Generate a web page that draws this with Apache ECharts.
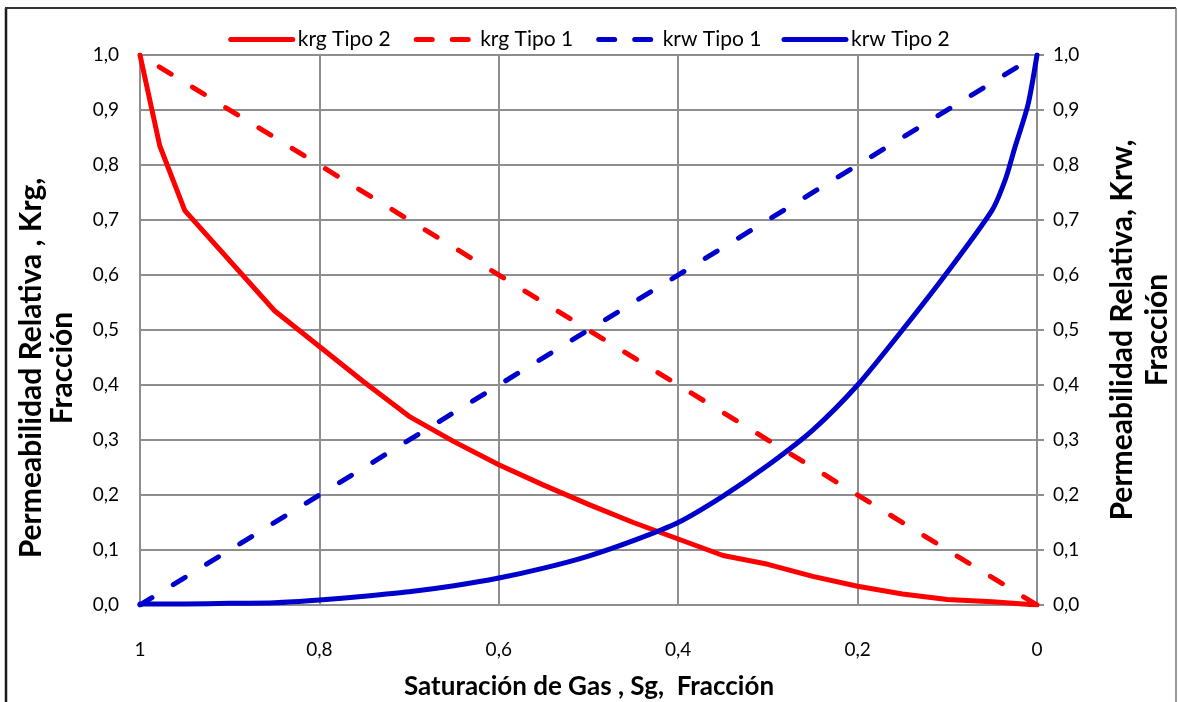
<!DOCTYPE html>
<html>
<head>
<meta charset="utf-8">
<title>Permeabilidad relativa</title>
<script src="https://cdn.jsdelivr.net/npm/echarts@6/dist/echarts.min.js"></script>
<style>
  html, body { margin: 0; padding: 0; background: #fff; }
  #chart { width: 1178px; height: 702px; }
</style>
</head>
<body>
<div id="chart"></div>
<script>
// Saturación de gas (Sg) y permeabilidades relativas
const krgTipo2Sg = [1, 0.978, 0.95, 0.85, 0.80, 0.75, 0.70, 0.65, 0.60, 0.55, 0.50, 0.45, 0.40, 0.35, 0.30, 0.25, 0.20, 0.15, 0.10, 0.05, 0];
const krgTipo2   = [1, 0.835, 0.717, 0.535, 0.47, 0.405, 0.343, 0.297, 0.255, 0.218, 0.183, 0.150, 0.120, 0.090, 0.074, 0.052, 0.034, 0.020, 0.010, 0.006, 0];

const tipo1Sg  = [1, 0];
const krgTipo1 = [1, 0];
const krwTipo1 = [0, 1];

const krwTipo2Sg = [1, 0.95, 0.90, 0.85, 0.80, 0.75, 0.70, 0.65, 0.60, 0.55, 0.50, 0.45, 0.40, 0.35, 0.30, 0.25, 0.20, 0.15, 0.10, 0.05, 0.035, 0.025, 0.01, 0];
const krwTipo2   = [0.002, 0.002, 0.003, 0.004, 0.009, 0.016, 0.024, 0.035, 0.049, 0.067, 0.089, 0.117, 0.150, 0.198, 0.254, 0.318, 0.400, 0.500, 0.605, 0.718, 0.775, 0.83, 0.91, 1.0];

const xTicks = [0, 0.2, 0.4, 0.6, 0.8, 1];
const yTicks = [0, 0.1, 0.2, 0.3, 0.4, 0.5, 0.6, 0.7, 0.8, 0.9, 1.0];

const legendNames = ['krg Tipo 2', 'krg Tipo 1', 'krw Tipo 1', 'krw Tipo 2'];
const dashedNames = ['krg Tipo 1', 'krw Tipo 1'];

const RED = '#FF0000';
const BLUE = '#0000CC';
const GRID = '#8E8E8E';
const FONT = 'Lato, "Open Sans", "DejaVu Sans", sans-serif';

const pairs = (xs, ys) => xs.map((x, i) => [x, ys[i]]);
const fmtX = v => (v === 0 || v === 1) ? String(v) : v.toFixed(1).replace('.', ',');
const fmtY = v => v.toFixed(1).replace('.', ',');

const chart = echarts.init(document.getElementById('chart'), null, { renderer: 'canvas' });

const lineSeries = (name, data, color, dashed, offset, smooth) => ({
  name,
  type: 'line',
  data,
  yAxisIndex: 0,
  symbol: 'none',
  showSymbol: false,
  smooth: smooth || false,
  animation: false,
  lineStyle: {
    color,
    width: 5,
    type: dashed ? [14, 25] : 'solid',
    dashOffset: offset || 0,
    cap: 'round',
    join: 'round'
  },
  itemStyle: { color },
  z: 3
});

// entradas de la leyenda: las discontinuas con su propio patrón corto
const legendData = legendNames.map(name => dashedNames.includes(name)
  ? { name, lineStyle: { type: [16, 20], dashOffset: -3, width: 5, cap: 'round' } }
  : { name, lineStyle: { width: 5, cap: 'round' } });

chart.setOption({
  backgroundColor: '#fff',
  animation: false,
  textStyle: { fontFamily: FONT },
  legend: {
    data: legendData,
    top: 24,
    left: 'center',
    itemWidth: 62,
    itemHeight: 14,
    itemGap: 20,
    itemStyle: { opacity: 0 },
    lineStyle: { width: 5, cap: 'round' },
    textStyle: { fontSize: 21, color: '#000', fontFamily: FONT }
  },
  grid: { left: 140, right: 141, top: 55, bottom: 97 },
  xAxis: {
    type: 'value',
    min: 0,
    max: 1,
    interval: 0.2,
    inverse: true,
    axisLine: { show: true, onZero: false, lineStyle: { color: GRID, width: 2 } },
    axisTick: { show: false },
    axisLabel: { formatter: fmtX, fontSize: 19, color: '#000', margin: 35, fontFamily: FONT },
    splitLine: { show: true, lineStyle: { color: GRID, width: 2 } }
  },
  yAxis: [
    {
      type: 'value',
      min: 0,
      max: 1,
      interval: 0.1,
      position: 'left',
      axisLine: { show: true, lineStyle: { color: GRID, width: 2 } },
      axisTick: { show: false },
      axisLabel: { formatter: fmtY, fontSize: 19, color: '#000', margin: 21, fontFamily: FONT },
      splitLine: { show: true, lineStyle: { color: GRID, width: 2 } }
    },
    {
      type: 'value',
      min: 0,
      max: 1,
      interval: 0.1,
      position: 'right',
      axisLine: { show: true, lineStyle: { color: GRID, width: 2 } },
      axisTick: { show: true, inside: false, length: 7, lineStyle: { color: GRID, width: 2 } },
      axisLabel: { formatter: fmtY, fontSize: 19, color: '#000', margin: 16, fontFamily: FONT },
      splitLine: { show: false }
    }
  ],
  series: [
    lineSeries('krg Tipo 2', pairs(krgTipo2Sg, krgTipo2), RED, false),
    lineSeries('krg Tipo 1', pairs(tipo1Sg, krgTipo1), RED, true, 16.5),
    lineSeries('krw Tipo 1', pairs(tipo1Sg, krwTipo1), BLUE, true, 0),
    lineSeries('krw Tipo 2', pairs(krwTipo2Sg, krwTipo2), BLUE, false, 0, 0.25)
  ],
  graphic: [
    // marco exterior
    { type: 'line', shape: { x1: 6, y1: 704, x2: 6, y2: 8 }, style: { stroke: '#1a1a1a', lineWidth: 2.5 }, silent: true },
    { type: 'line', shape: { x1: 5, y1: 8, x2: 1176, y2: 8 }, style: { stroke: '#333', lineWidth: 2 }, silent: true },
    { type: 'line', shape: { x1: 1176, y1: 8, x2: 1176, y2: 704 }, style: { stroke: '#777', lineWidth: 1.5 }, silent: true },
    // títulos de ejes
    {
      type: 'text',
      x: 589, y: 687,
      style: {
        text: 'Saturación de Gas , Sg,  Fracción',
        font: 'bold 26px ' + FONT,
        fill: '#000',
        textAlign: 'center',
        textVerticalAlign: 'middle'
      },
      silent: true
    },
    {
      type: 'text',
      x: 47, y: 368,
      rotation: Math.PI / 2,
      style: {
        text: 'Permeabilidad Relativa , Krg,\nFracción',
        font: 'bold 30px ' + FONT,
        lineHeight: 31,
        fill: '#000',
        textAlign: 'center',
        textVerticalAlign: 'middle'
      },
      silent: true
    },
    {
      type: 'text',
      x: 1140, y: 330,
      rotation: Math.PI / 2,
      style: {
        text: 'Permeabilidad Relativa, Krw,\nFracción',
        font: 'bold 30px ' + FONT,
        lineHeight: 35,
        fill: '#000',
        textAlign: 'center',
        textVerticalAlign: 'middle'
      },
      silent: true
    }
  ]
});
</script>
</body>
</html>
